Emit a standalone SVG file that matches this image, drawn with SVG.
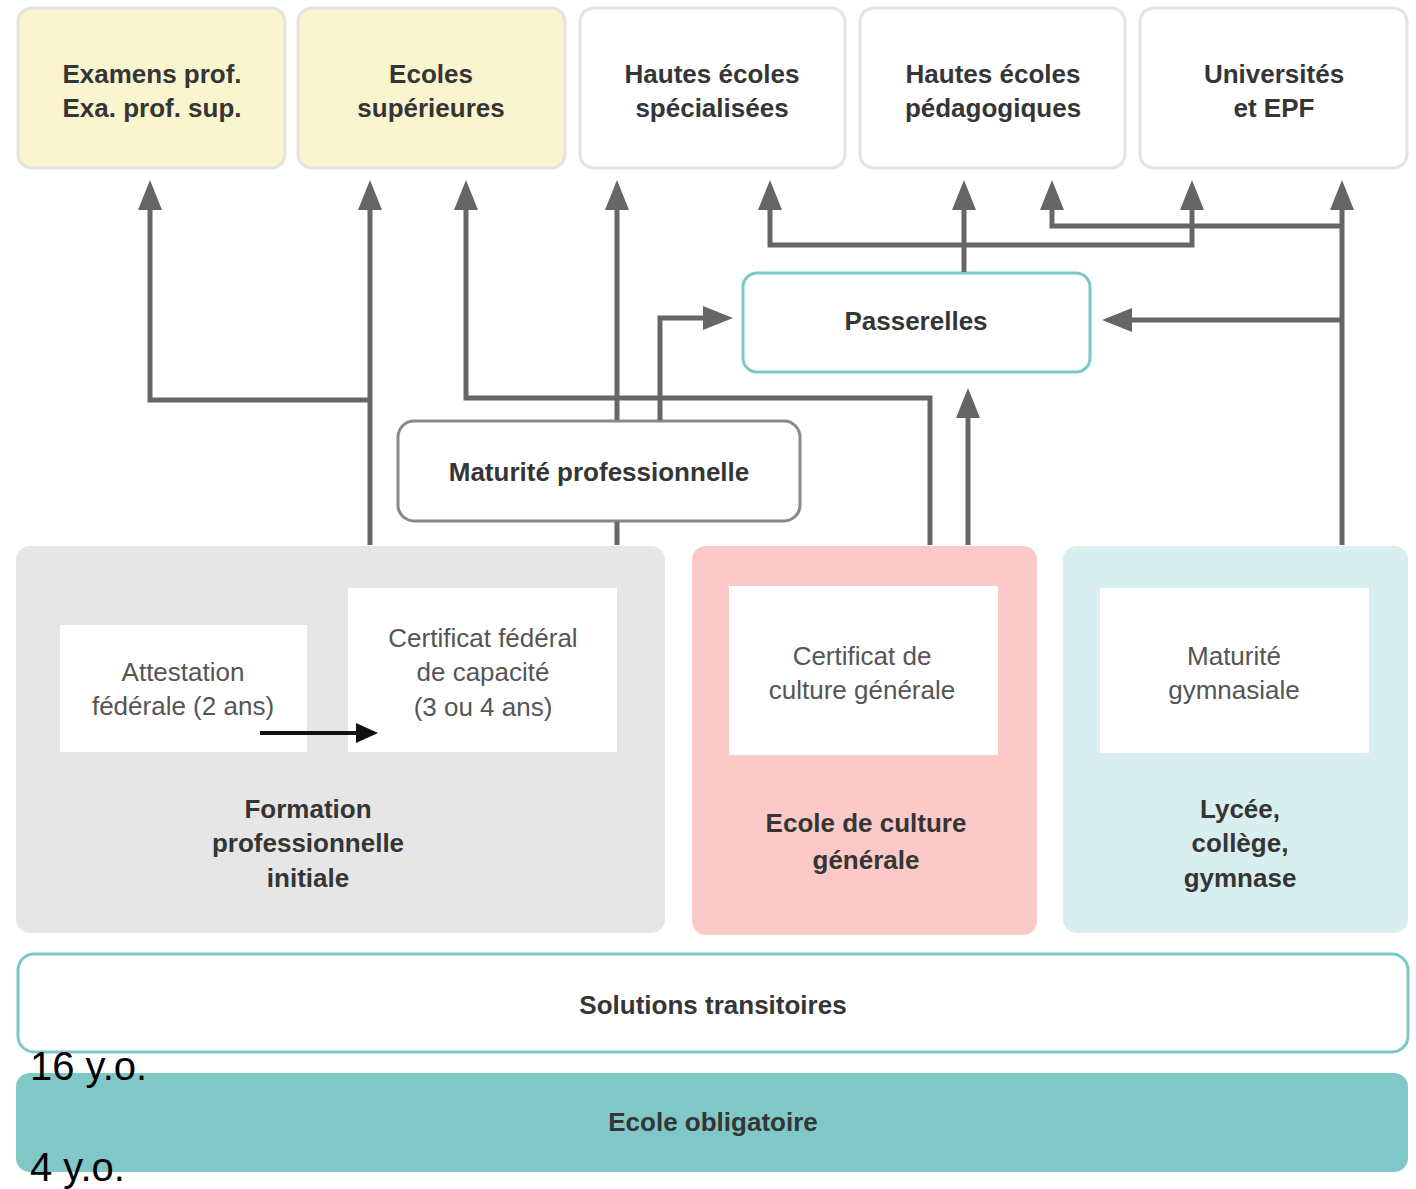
<svg xmlns="http://www.w3.org/2000/svg" width="1416" height="1189" viewBox="0 0 1416 1189">
<style>
.top{stroke:#e3e3e3;stroke-width:3}
.lbl{font-family:"Liberation Sans",Arial,sans-serif;font-weight:bold;font-size:26px;fill:#353535;text-anchor:middle}
.reg{font-family:"Liberation Sans",Arial,sans-serif;font-size:26px;fill:#555;text-anchor:middle}
.con{fill:none;stroke:#666;stroke-width:5;stroke-linejoin:miter}
.age{font-family:"Liberation Sans",Arial,sans-serif;font-size:40px;fill:#000}
</style>
<defs>
<marker id="ah" markerUnits="userSpaceOnUse" viewBox="0 0 30 24" markerWidth="30" markerHeight="24" refX="18" refY="12" orient="auto"><path d="M0,0 L30,12 L0,24 z" fill="#666"/></marker>
<marker id="bh" markerUnits="userSpaceOnUse" viewBox="0 0 22 20" markerWidth="22" markerHeight="20" refX="10" refY="10" orient="auto"><path d="M0,0 L22,10 L0,20 z" fill="#111"/></marker>
</defs>
<rect width="1416" height="1189" fill="#fff"/>

<g id="examens"><rect class="top" x="18" y="8" width="267" height="160" rx="14" fill="#f8f5cf"/><text class="lbl" x="152" y="83">Examens prof.</text><text class="lbl" x="152" y="117">Exa. prof. sup.</text></g>
<g id="ecoles-sup"><rect class="top" x="298" y="8" width="267" height="160" rx="14" fill="#f8f5cf"/><text class="lbl" x="431" y="83">Ecoles</text><text class="lbl" x="431" y="117">supérieures</text></g>
<g id="hes"><rect class="top" x="580" y="8" width="265" height="160" rx="14" fill="#fff"/><text class="lbl" x="712" y="83">Hautes écoles</text><text class="lbl" x="712" y="117">spécialisées</text></g>
<g id="hep"><rect class="top" x="860" y="8" width="265" height="160" rx="14" fill="#fff"/><text class="lbl" x="993" y="83">Hautes écoles</text><text class="lbl" x="993" y="117">pédagogiques</text></g>
<g id="uni"><rect class="top" x="1140" y="8" width="267" height="160" rx="14" fill="#fff"/><text class="lbl" x="1274" y="83">Universités</text><text class="lbl" x="1274" y="117">et EPF</text></g>

<g id="passerelles"><rect x="743" y="273" width="347" height="99" rx="14" fill="#fff" stroke="#7cc8c8" stroke-width="3"/><text class="lbl" x="916" y="330">Passerelles</text></g>
<g id="maturite-pro"><rect x="398" y="421" width="402" height="100" rx="16" fill="#fff" stroke="#888" stroke-width="3"/><text class="lbl" x="599" y="481">Maturité professionnelle</text></g>

<g id="formation-pro"><rect x="16" y="546" width="649" height="387" rx="14" fill="#e6e6e6"/><text class="lbl" x="308" y="818">Formation</text><text class="lbl" x="308" y="852">professionnelle</text><text class="lbl" x="308" y="887">initiale</text></g>
<g id="attestation"><rect x="60" y="625" width="247" height="127" fill="#fff"/><text class="reg" x="183" y="681">Attestation</text><text class="reg" x="183" y="715">fédérale (2 ans)</text></g>
<g id="cfc"><rect x="348" y="588" width="269" height="164" fill="#fff"/><text class="reg" x="483" y="647">Certificat fédéral</text><text class="reg" x="483" y="681">de capacité</text><text class="reg" x="483" y="716">(3 ou 4 ans)</text></g>

<g id="ecg"><rect x="692" y="546" width="345" height="389" rx="14" fill="#fcc9c9"/><text class="lbl" x="866" y="832" fill="#3a2a2a">Ecole de culture</text><text class="lbl" x="866" y="869" fill="#3a2a2a">générale</text></g>
<g id="ccg"><rect x="729" y="586" width="269" height="169" fill="#fff"/><text class="reg" x="862" y="665">Certificat de</text><text class="reg" x="862" y="699">culture générale</text></g>

<g id="lycee"><rect x="1063" y="546" width="345" height="387" rx="14" fill="#d9eeee"/><text class="lbl" x="1240" y="818" fill="#2b3540">Lycée,</text><text class="lbl" x="1240" y="852" fill="#2b3540">collège,</text><text class="lbl" x="1240" y="887" fill="#2b3540">gymnase</text></g>
<g id="maturite-gym"><rect x="1100" y="588" width="269" height="165" fill="#fff"/><text class="reg" x="1234" y="665">Maturité</text><text class="reg" x="1234" y="699">gymnasiale</text></g>

<g id="solutions"><rect x="18" y="954" width="1390" height="98" rx="16" fill="#fff" stroke="#7cc8c8" stroke-width="3"/><text class="lbl" x="713" y="1014" fill="#333">Solutions transitoires</text></g>
<g id="obligatoire"><rect x="16" y="1073" width="1392" height="99" rx="14" fill="#80c8c8"/><text class="lbl" x="713" y="1131" fill="#1f3a40">Ecole obligatoire</text></g>

<g id="connectors">
<path class="con" d="M370,545 V192" marker-end="url(#ah)"/>
<path class="con" d="M370,400 H150 V192" marker-end="url(#ah)"/>
<path class="con" d="M930,545 V398 H466 V192" marker-end="url(#ah)"/>
<path class="con" d="M617,420 V192" marker-end="url(#ah)"/>
<path class="con" d="M617,522 V545"/>
<path class="con" d="M660,420 V318 H721" marker-end="url(#ah)"/>
<path class="con" d="M968,545 V400" marker-end="url(#ah)"/>
<path class="con" d="M964,272 V192" marker-end="url(#ah)"/>
<path class="con" d="M964,245 H770 V192" marker-end="url(#ah)"/>
<path class="con" d="M964,245 H1192 V192" marker-end="url(#ah)"/>
<path class="con" d="M1342,545 V192" marker-end="url(#ah)"/>
<path class="con" d="M1342,226 H1052 V192" marker-end="url(#ah)"/>
<path class="con" d="M1342,320 H1114" marker-end="url(#ah)"/>
<path d="M260,733 H366" fill="none" stroke="#111" stroke-width="4" marker-end="url(#bh)"/>
</g>

<text class="age" x="30" y="1080">16 y.o.</text>
<text class="age" x="30" y="1181">4 y.o.</text>
</svg>
